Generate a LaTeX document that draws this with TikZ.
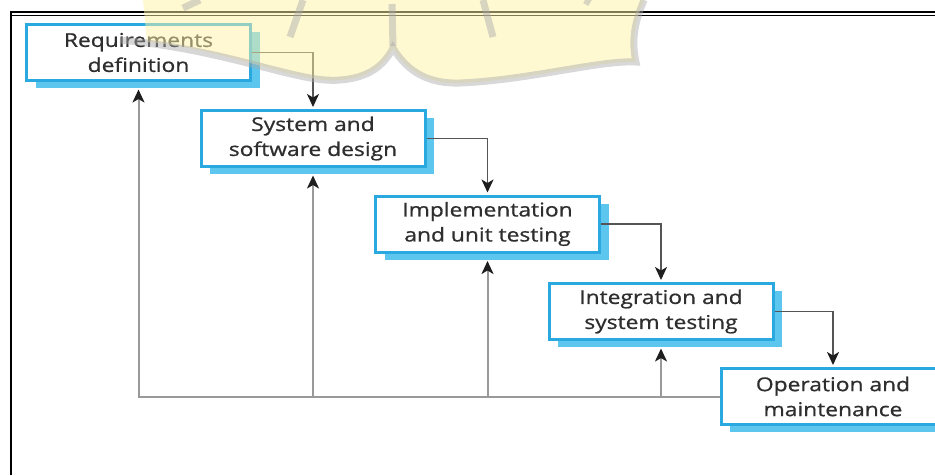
\documentclass[tikz,border=0pt]{standalone}
\usepackage{fontspec}
\setmainfont{Open Sans}[FakeStretch=1.2, FakeBold=0.8]
\usetikzlibrary{arrows.meta,shadows}

\definecolor{boxblue}{HTML}{2AA8E0}
\definecolor{shadowblue}{HTML}{5CC6EE}
\definecolor{flowgray}{HTML}{555555}
\definecolor{backgray}{HTML}{999999}
\definecolor{tipgray}{HTML}{1E1E1E}
\definecolor{textgray}{HTML}{2E2E2E}
\definecolor{markyellow}{HTML}{FFF3A6}
\definecolor{markgray}{HTML}{A8A8A8}

\tikzset{
  phase/.style={draw=boxblue, line width=3pt, fill=white,
    minimum width=224pt, minimum height=56pt, inner sep=0pt,
    align=center, text=textgray, font=\fontsize{19}{25}\selectfont,
    drop shadow={shadow xshift=9pt, shadow yshift=-7.5pt,
      fill=shadowblue, opacity=1}},
  tip/.style={-{Stealth[length=13pt,width=12pt,inset=3.5pt,color=tipgray]}},
  flow/.style={tip, draw=flowgray, line width=1.8pt, shorten >=2pt},
  back/.style={draw=backgray, line width=2pt},
  backarrow/.style={back, tip, shorten >=7.5pt},
  markfill/.style={fill=markyellow, fill opacity=0.5},
  markline/.style={draw=markgray, draw opacity=0.45, line width=7pt}
}

\begin{document}
\begin{tikzpicture}[x=1pt, y=-1pt]
\useasboundingbox (0,0) rectangle (935,475);

% outer frame
\draw[line width=2pt] (11,475) -- (11,12) -- (935,12);
\draw[line width=1.1pt] (12,15.5) -- (935,15.5);

% the five phases
\node[phase] (b1) at (138.5,52.5) {Requirements\\definition};
\node[phase] (b2) at (313,138.5) {System and\\software design};
\node[phase] (b3) at (487.5,224) {Implementation\\and unit testing};
\node[phase] (b4) at (661,311.5) {Integration and\\system testing};
\node[phase] (b5) at (833,396.5) {Operation and\\maintenance};

% forward flow
\draw[flow] (b1.east) -| (b2.north);
\draw[flow] (b2.east) -| (b3.north);
\draw[flow] (b3.east) -| (b4.north);
\draw[flow] (b4.east) -| (b5.north);

% feedback to earlier phases
\draw[backarrow] (b5.west) -| (b1.south);
\draw[backarrow] (b2 |- b5.west) -- (b2.south);
\draw[backarrow] (b3 |- b5.west) -- (b3.south);
\draw[backarrow] (b4 |- b5.west) -- (b4.south);

% faint emblem across the top
\path[markfill] (143,0) -- (147,42)
  .. controls (230,50) and (300,84) .. (340,80)
  .. controls (370,78) and (385,64) .. (393,48)
  .. controls (408,73) and (430,84) .. (460,83)
  .. controls (530,80) and (600,60) .. (636,62)
  .. controls (630,35) and (638,15) .. (644,0) -- cycle;
\draw[markline] (120,40)
  .. controls (230,50) and (300,84) .. (340,80)
  .. controls (370,78) and (385,64) .. (393,48)
  .. controls (408,73) and (430,84) .. (460,83)
  .. controls (530,80) and (600,60) .. (636,62)
  .. controls (630,35) and (638,15) .. (644,0);
\draw[markline] (200,0) -- (183,8);
\draw[markline] (303,0) -- (290,37);
\draw[markline] (392,4) -- (393,46);
\draw[markline] (483,0) -- (493,37);
\draw[markline] (585,0) -- (590,3);
\end{tikzpicture}
\end{document}
